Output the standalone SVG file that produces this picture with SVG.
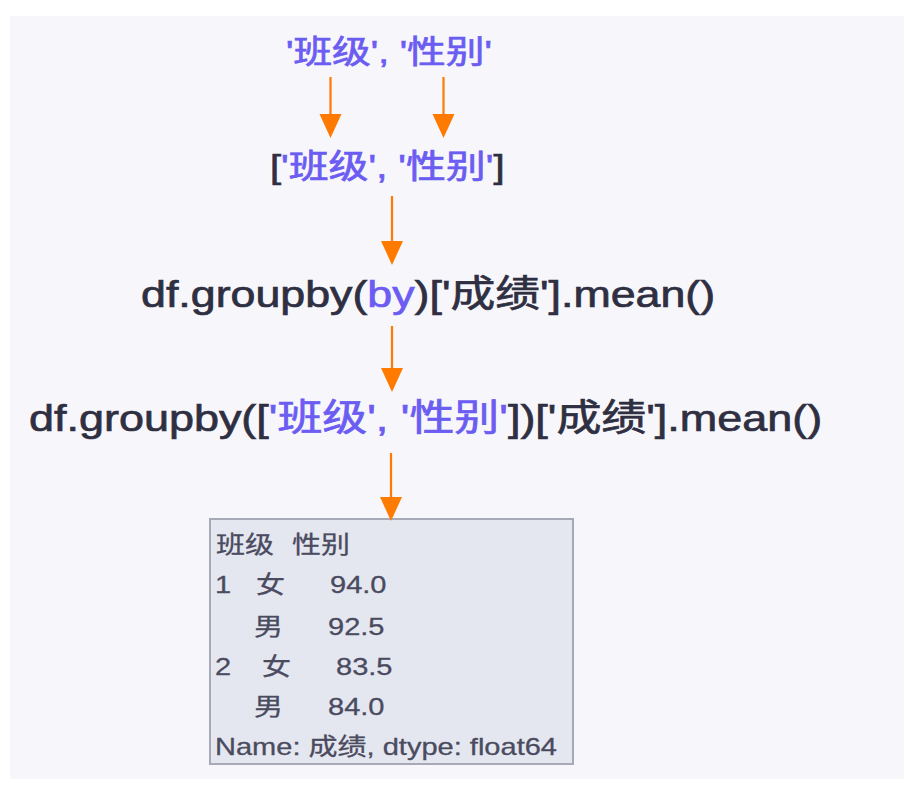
<svg xmlns="http://www.w3.org/2000/svg" width="909" height="786" viewBox="0 0 909 786">
<defs>
<style>
.t{font-family:"Liberation Sans","Noto Sans CJK SC",sans-serif;}
.dk{fill:#2f2f42;stroke:#2f2f42;stroke-width:0.7;}
.pu{fill:#6b5cf2;stroke:#6b5cf2;stroke-width:0.7;}
.bx{fill:#4a4b60;stroke:#4a4b60;stroke-width:0.3;font-size:24px;}
.edge{stroke:#ff7a00;stroke-width:2.2;fill:none;marker-end:url(#ah);}
</style>
<marker id="ah" viewBox="0 0 24 24" refX="12" refY="12" markerWidth="24" markerHeight="24" markerUnits="userSpaceOnUse" orient="auto">
<path d="M0,1 L24,12 L0,23 Z" fill="#ff7a00"/>
</marker>
</defs>
<rect x="0" y="0" width="909" height="786" fill="#ffffff"/>
<rect x="10" y="16" width="894" height="763" fill="#f7f6fb"/>

<g id="n1">
<text class="t pu" font-size="32" transform="translate(286,63) scale(1.21,1)">'班级', '性别'</text>
</g>
<g id="n2">
<text class="t dk" font-size="33" transform="translate(270,178) scale(1.21,1)">[<tspan class="pu">'班级', '性别'</tspan>]</text>
</g>
<g id="n3">
<text class="t dk" font-size="37" transform="translate(141,307) scale(1.21,1)">df.groupby(<tspan class="pu">by</tspan>)['成绩'].mean()</text>
</g>
<g id="n4">
<text class="t dk" font-size="37" transform="translate(29,431) scale(1.215,1)">df.groupby([<tspan class="pu">'班级', '性别'</tspan>])['成绩'].mean()</text>
</g>
<g id="n5">
<rect x="210" y="519" width="363" height="245" fill="#e5e7f0" stroke="#a8a9b6" stroke-width="2"/>
<text class="t bx" transform="translate(216,553) scale(1.21,1)">班级</text>
<text class="t bx" transform="translate(292,553) scale(1.21,1)">性别</text>
<text class="t bx" transform="translate(215,593) scale(1.21,1)">1</text>
<text class="t bx" transform="translate(256,593) scale(1.21,1)">女</text>
<text class="t bx" transform="translate(330,593) scale(1.21,1)">94.0</text>
<text class="t bx" transform="translate(254,635) scale(1.21,1)">男</text>
<text class="t bx" transform="translate(328,635) scale(1.21,1)">92.5</text>
<text class="t bx" transform="translate(215,675) scale(1.21,1)">2</text>
<text class="t bx" transform="translate(262,675) scale(1.21,1)">女</text>
<text class="t bx" transform="translate(336,675) scale(1.21,1)">83.5</text>
<text class="t bx" transform="translate(254,715) scale(1.21,1)">男</text>
<text class="t bx" transform="translate(328,715) scale(1.21,1)">84.0</text>
<text class="t bx" transform="translate(215,755) scale(1.21,1)">Name: 成绩, dtype: float64</text>
</g>

<g id="connectors">
<path class="edge" d="M330.5,77 V126"/>
<path class="edge" d="M443.5,77 V126"/>
<path class="edge" d="M392,196 V253"/>
<path class="edge" d="M392,326 V380"/>
<path class="edge" d="M391,453 V509"/>
</g>
</svg>
